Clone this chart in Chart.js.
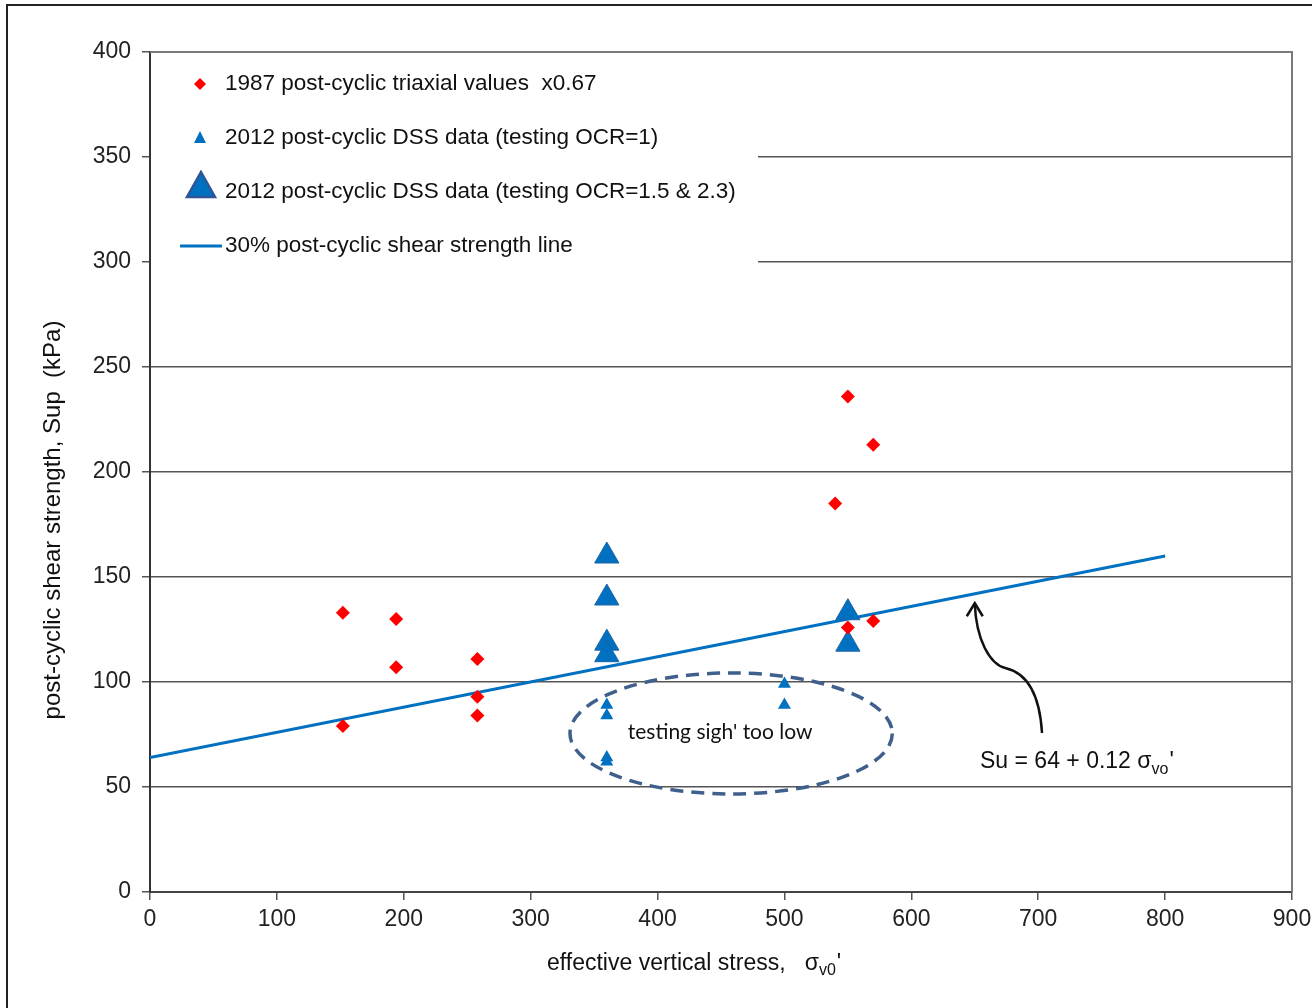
<!DOCTYPE html>
<html><head><meta charset="utf-8">
<script src="https://cdn.jsdelivr.net/npm/chart.js@4.4.1/dist/chart.umd.min.js"></script>
<style>html,body{margin:0;padding:0;background:#fff;overflow:hidden}#wrap{width:1312px;height:1008px;position:relative}</style>
</head><body><div id="wrap"><canvas id="c" width="1312" height="1008"></canvas></div>
<script>
// ---- data ----
const triaxialX = [152, 152, 194, 194, 258, 258, 258, 550, 570, 540, 550, 570];
const triaxialY = [133, 79, 130, 107, 111, 93, 84, 236, 213, 185, 126, 129];
const dssOcr1X = [360, 360, 360, 360, 500, 500];
const dssOcr1Y = [89, 84, 64, 62, 99, 89];
const dssOcrHiX = [360, 360, 360, 360, 550, 550];
const dssOcrHiY = [160, 140, 118.5, 113, 133, 118];
const lineX = [0, 800];
const lineY = [64, 160];
const xTicks = [0, 100, 200, 300, 400, 500, 600, 700, 800, 900];
const yTicks = [0, 50, 100, 150, 200, 250, 300, 350, 400];
const legendLabels = [
  '1987 post-cyclic triaxial values  x0.67',
  '2012 post-cyclic DSS data (testing OCR=1)',
  '2012 post-cyclic DSS data (testing OCR=1.5 & 2.3)',
  '30% post-cyclic shear strength line'
];
const ellipseNote = "testing sigh' too low";
const ellipseCenter = [458, 75.5];
const ellipseRadii = [127, 28.8];
const eqText = ['Su = 64 + 0.12 \u03C3', 'vo', "'"];
const xTitle = ['effective vertical stress,   \u03C3', 'v0', "'"];
const yTitle = 'post-cyclic shear strength, Sup  (kPa)';

const pts = (xs, ys) => xs.map((x, i) => ({x: x, y: ys[i]}));
const BLUE = '#0070C0';
const NARROW = '"Liberation Sans Narrow", "Liberation Sans", Arial, sans-serif';
const SANS = '"Liberation Sans", Arial, sans-serif';

const decor = {
  id: 'decor',
  beforeDraw(chart) {
    const ctx = chart.ctx;
    ctx.save();
    ctx.fillStyle = '#fff';
    ctx.fillRect(0, 0, chart.width, chart.height);
    ctx.strokeStyle = '#222'; ctx.lineWidth = 2;
    ctx.beginPath(); ctx.moveTo(7, 1008); ctx.lineTo(7, 5); ctx.lineTo(1312, 5); ctx.stroke();
    ctx.restore();
  },
  beforeDatasetsDraw(chart) {
    const ctx = chart.ctx, a = chart.chartArea;
    ctx.save();
    ctx.fillStyle = '#fff';
    ctx.fillRect(a.left + 1, a.top + 1, 757 - a.left, 300 - a.top);
    ctx.strokeStyle = '#7a7a7a'; ctx.lineWidth = 2;
    ctx.beginPath(); ctx.moveTo(a.left, a.top); ctx.lineTo(a.right, a.top); ctx.lineTo(a.right, a.bottom); ctx.stroke();
    ctx.restore();
  },
  afterDatasetsDraw(chart) {
    const ctx = chart.ctx, xs = chart.scales.x, ys = chart.scales.y;
    ctx.save();
    const cx = xs.getPixelForValue(ellipseCenter[0]), cy = ys.getPixelForValue(ellipseCenter[1]);
    const rx = xs.getPixelForValue(ellipseCenter[0] + ellipseRadii[0]) - cx;
    const ry = cy - ys.getPixelForValue(ellipseCenter[1] + ellipseRadii[1]);
    ctx.strokeStyle = '#3f5f8c'; ctx.lineWidth = 3.5; ctx.setLineDash([13, 8]);
    ctx.beginPath(); ctx.ellipse(cx, cy, rx, ry, 0, 0, Math.PI * 2); ctx.stroke();
    ctx.setLineDash([]);
    ctx.fillStyle = '#111'; ctx.font = '21px Lato, "Open Sans", sans-serif';
    ctx.textAlign = 'center'; ctx.textBaseline = 'middle';
    ctx.fillText(ellipseNote, cx - 11, cy - 1);
    const P = (x, y) => [xs.getPixelForValue(x), ys.getPixelForValue(y)];
    const s = P(703, 75.7), c1 = P(701, 96), c2 = P(690, 104.5), m = P(674, 106.7);
    const c3 = P(662, 108.5), c4 = P(651, 120), tip = P(650, 137.5);
    ctx.strokeStyle = '#111'; ctx.lineWidth = 2.5;
    ctx.beginPath(); ctx.moveTo(s[0], s[1]);
    ctx.bezierCurveTo(c1[0], c1[1], c2[0], c2[1], m[0], m[1]);
    ctx.bezierCurveTo(c3[0], c3[1], c4[0], c4[1], tip[0], tip[1]);
    ctx.stroke();
    ctx.beginPath();
    ctx.moveTo(tip[0] - 8, tip[1] + 13); ctx.lineTo(tip[0], tip[1]); ctx.lineTo(tip[0] + 8, tip[1] + 13);
    ctx.stroke();
    ctx.textAlign = 'left'; ctx.textBaseline = 'alphabetic';
    ctx.font = '23px ' + SANS;
    let x0 = 980, b = 768;
    ctx.fillText(eqText[0], x0, b); x0 += ctx.measureText(eqText[0]).width;
    ctx.font = '16px ' + SANS; ctx.fillText(eqText[1], x0, b + 6); x0 += ctx.measureText(eqText[1]).width;
    ctx.font = '23px ' + SANS; ctx.fillText(eqText[2], x0 + 1, b);
    ctx.restore();
  },
  afterDraw(chart) {
    const ctx = chart.ctx;
    ctx.save();
    ctx.fillStyle = 'red';
    ctx.beginPath(); ctx.moveTo(200, 78); ctx.lineTo(206, 84); ctx.lineTo(200, 90); ctx.lineTo(194, 84); ctx.closePath(); ctx.fill();
    ctx.fillStyle = BLUE;
    ctx.beginPath(); ctx.moveTo(200, 131); ctx.lineTo(206, 143); ctx.lineTo(194, 143); ctx.closePath(); ctx.fill();
    ctx.beginPath(); ctx.moveTo(201, 172); ctx.lineTo(215, 197); ctx.lineTo(187, 197); ctx.closePath();
    ctx.fill(); ctx.strokeStyle = '#2f5597'; ctx.lineWidth = 2.5; ctx.stroke();
    ctx.strokeStyle = BLUE; ctx.lineWidth = 3;
    ctx.beginPath(); ctx.moveTo(180, 246); ctx.lineTo(222, 246); ctx.stroke();
    ctx.fillStyle = '#111'; ctx.font = '22.5px ' + NARROW;
    ctx.textAlign = 'left'; ctx.textBaseline = 'middle';
    const ly = [84, 138, 192, 246];
    legendLabels.forEach((t, i) => ctx.fillText(t, 225, ly[i]));
    ctx.save();
    ctx.translate(53, 520); ctx.rotate(-Math.PI / 2);
    ctx.textAlign = 'center'; ctx.font = '24px ' + NARROW;
    ctx.fillText(yTitle, 0, 0);
    ctx.restore();
    ctx.textBaseline = 'alphabetic'; ctx.textAlign = 'left';
    let x0 = 547, b = 970;
    ctx.font = '23px ' + NARROW; ctx.fillText(xTitle[0], x0, b); x0 += ctx.measureText(xTitle[0]).width;
    ctx.font = '16px ' + NARROW; ctx.fillText(xTitle[1], x0, b + 5); x0 += ctx.measureText(xTitle[1]).width;
    ctx.font = '23px ' + NARROW; ctx.fillText(xTitle[2], x0 + 1, b);
    ctx.restore();
  }
};

new Chart(document.getElementById('c'), {
  type: 'scatter',
  data: {
    datasets: [
      {label: legendLabels[0], data: pts(triaxialX, triaxialY), pointStyle: 'rectRot', pointRadius: 7,
       backgroundColor: 'red', borderColor: 'red', borderWidth: 0, order: 1},
      {label: legendLabels[1], data: pts(dssOcr1X, dssOcr1Y), pointStyle: 'triangle', pointRadius: 7.5,
       backgroundColor: BLUE, borderColor: BLUE, borderWidth: 0, order: 2},
      {label: legendLabels[2], data: pts(dssOcrHiX, dssOcrHiY), pointStyle: 'triangle', pointRadius: 14,
       backgroundColor: BLUE, borderColor: '#1d64a8', borderWidth: 1, order: 3},
      {label: legendLabels[3], data: pts(lineX, lineY), showLine: true, pointRadius: 0,
       borderColor: BLUE, borderWidth: 3, order: 4}
    ]
  },
  options: {
    responsive: false, animation: false, devicePixelRatio: 1,
    layout: {padding: {left: 0, right: 20, top: 52, bottom: 0}},
    plugins: {legend: {display: false}, tooltip: {enabled: false}},
    scales: {
      x: {
        type: 'linear', min: 0, max: 900,
        afterBuildTicks: (s) => { s.ticks = xTicks.map(v => ({value: v})); },
        ticks: {font: {family: SANS, size: 23}, color: '#222', padding: 6, maxRotation: 0, autoSkip: false},
        grid: {drawOnChartArea: false, drawTicks: true, tickLength: 8, tickColor: '#555', lineWidth: 1.5},
        border: {display: true, color: '#444', width: 2},
        afterFit: (s) => { s.height = 116; s.paddingLeft = 0; s.paddingRight = 0; }
      },
      y: {
        type: 'linear', min: 0, max: 400,
        afterBuildTicks: (s) => { s.ticks = yTicks.map(v => ({value: v})); },
        ticks: {font: {family: SANS, size: 23}, color: '#222', padding: 11, autoSkip: false},
        grid: {
          color: (c) => (c.tick && (c.tick.value === 400 || c.tick.value === 0)) ? 'rgba(0,0,0,0)' : '#555',
          lineWidth: 1.5, tickLength: 8, tickColor: '#555'
        },
        border: {display: true, color: '#333', width: 2},
        afterFit: (s) => { s.width = 150; s.paddingTop = 0; s.paddingBottom = 0; }
      }
    }
  },
  plugins: [decor]
});
</script>
</body></html>
